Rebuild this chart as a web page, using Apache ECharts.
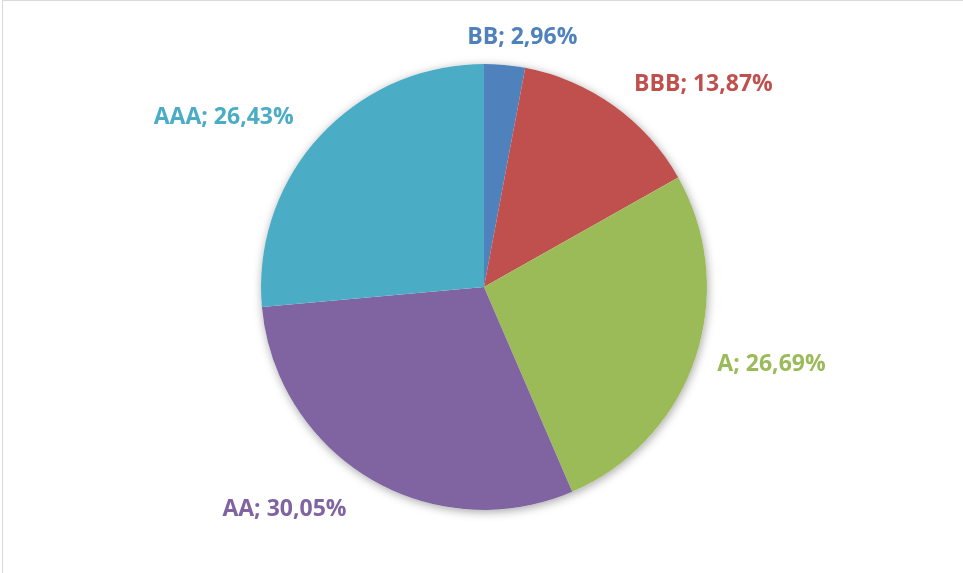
<!DOCTYPE html>
<html>
<head>
<meta charset="utf-8">
<script src="https://cdn.jsdelivr.net/npm/echarts@6/dist/echarts.min.js"></script>
<style>
  html, body { margin: 0; padding: 0; background: #fff; }
  #frame {
    position: absolute; left: 2px; top: 0; width: 961px; height: 573px;
    border-left: 1px solid #d9d9d9; border-top: 1px solid #d9d9d9;
    box-sizing: border-box;
  }
  #chart { position: absolute; left: 0; top: 0; width: 963px; height: 573px; }
</style>
</head>
<body>
<div id="frame"></div>
<div id="chart"></div>
<script>
// rating shares (%), clockwise from 12 o'clock
const ratings = ['BB', 'BBB', 'A', 'AA', 'AAA']
const shares = [2.96, 13.87, 26.69, 30.05, 26.43]
const colors = ['#4F81BD', '#C0504D', '#9BBB59', '#8064A2', '#4BACC6']
// distance of each label from the pie edge
const labelGap = [28, 26, 18, 36, 28]

const myChart = echarts.init(document.getElementById('chart'))

const option = {
  animation: false,
  series: [
    {
      // shadow disc under the pie
      type: 'pie',
      silent: true,
      center: [484, 287],
      radius: 223,
      z: 1,
      label: { show: false },
      labelLine: { show: false },
      itemStyle: {
        color: '#ffffff',
        shadowBlur: 10,
        shadowColor: 'rgba(0,0,0,0.35)',
        shadowOffsetX: 1,
        shadowOffsetY: 2
      },
      data: [{ value: 1 }]
    },
    {
      type: 'pie',
      center: [484, 287],
      radius: 223,
      startAngle: 90,
      clockwise: true,
      z: 2,
      label: {
        show: true,
        position: 'outside',
        fontFamily: 'Open Sans',
        fontWeight: 'bold',
        fontSize: 23,
        formatter: (p) => p.name + '; ' + p.value.toFixed(2).replace('.', ',') + '%'
      },
      labelLine: { show: false, length: 28, length2: 0 },
      // small top label sits centred over its thin slice
      labelLayout: (params) => (params.dataIndex === 0 ? { dx: -params.labelRect.width / 2 + 10 } : {}),
      itemStyle: { borderWidth: 0 },
      data: ratings.map((name, i) => ({
        name: name,
        value: shares[i],
        itemStyle: { color: colors[i] },
        label: { color: colors[i] },
        labelLine: { length: labelGap[i], length2: 0 }
      }))
    }
  ]
}
myChart.setOption(option)
</script>
</body>
</html>
